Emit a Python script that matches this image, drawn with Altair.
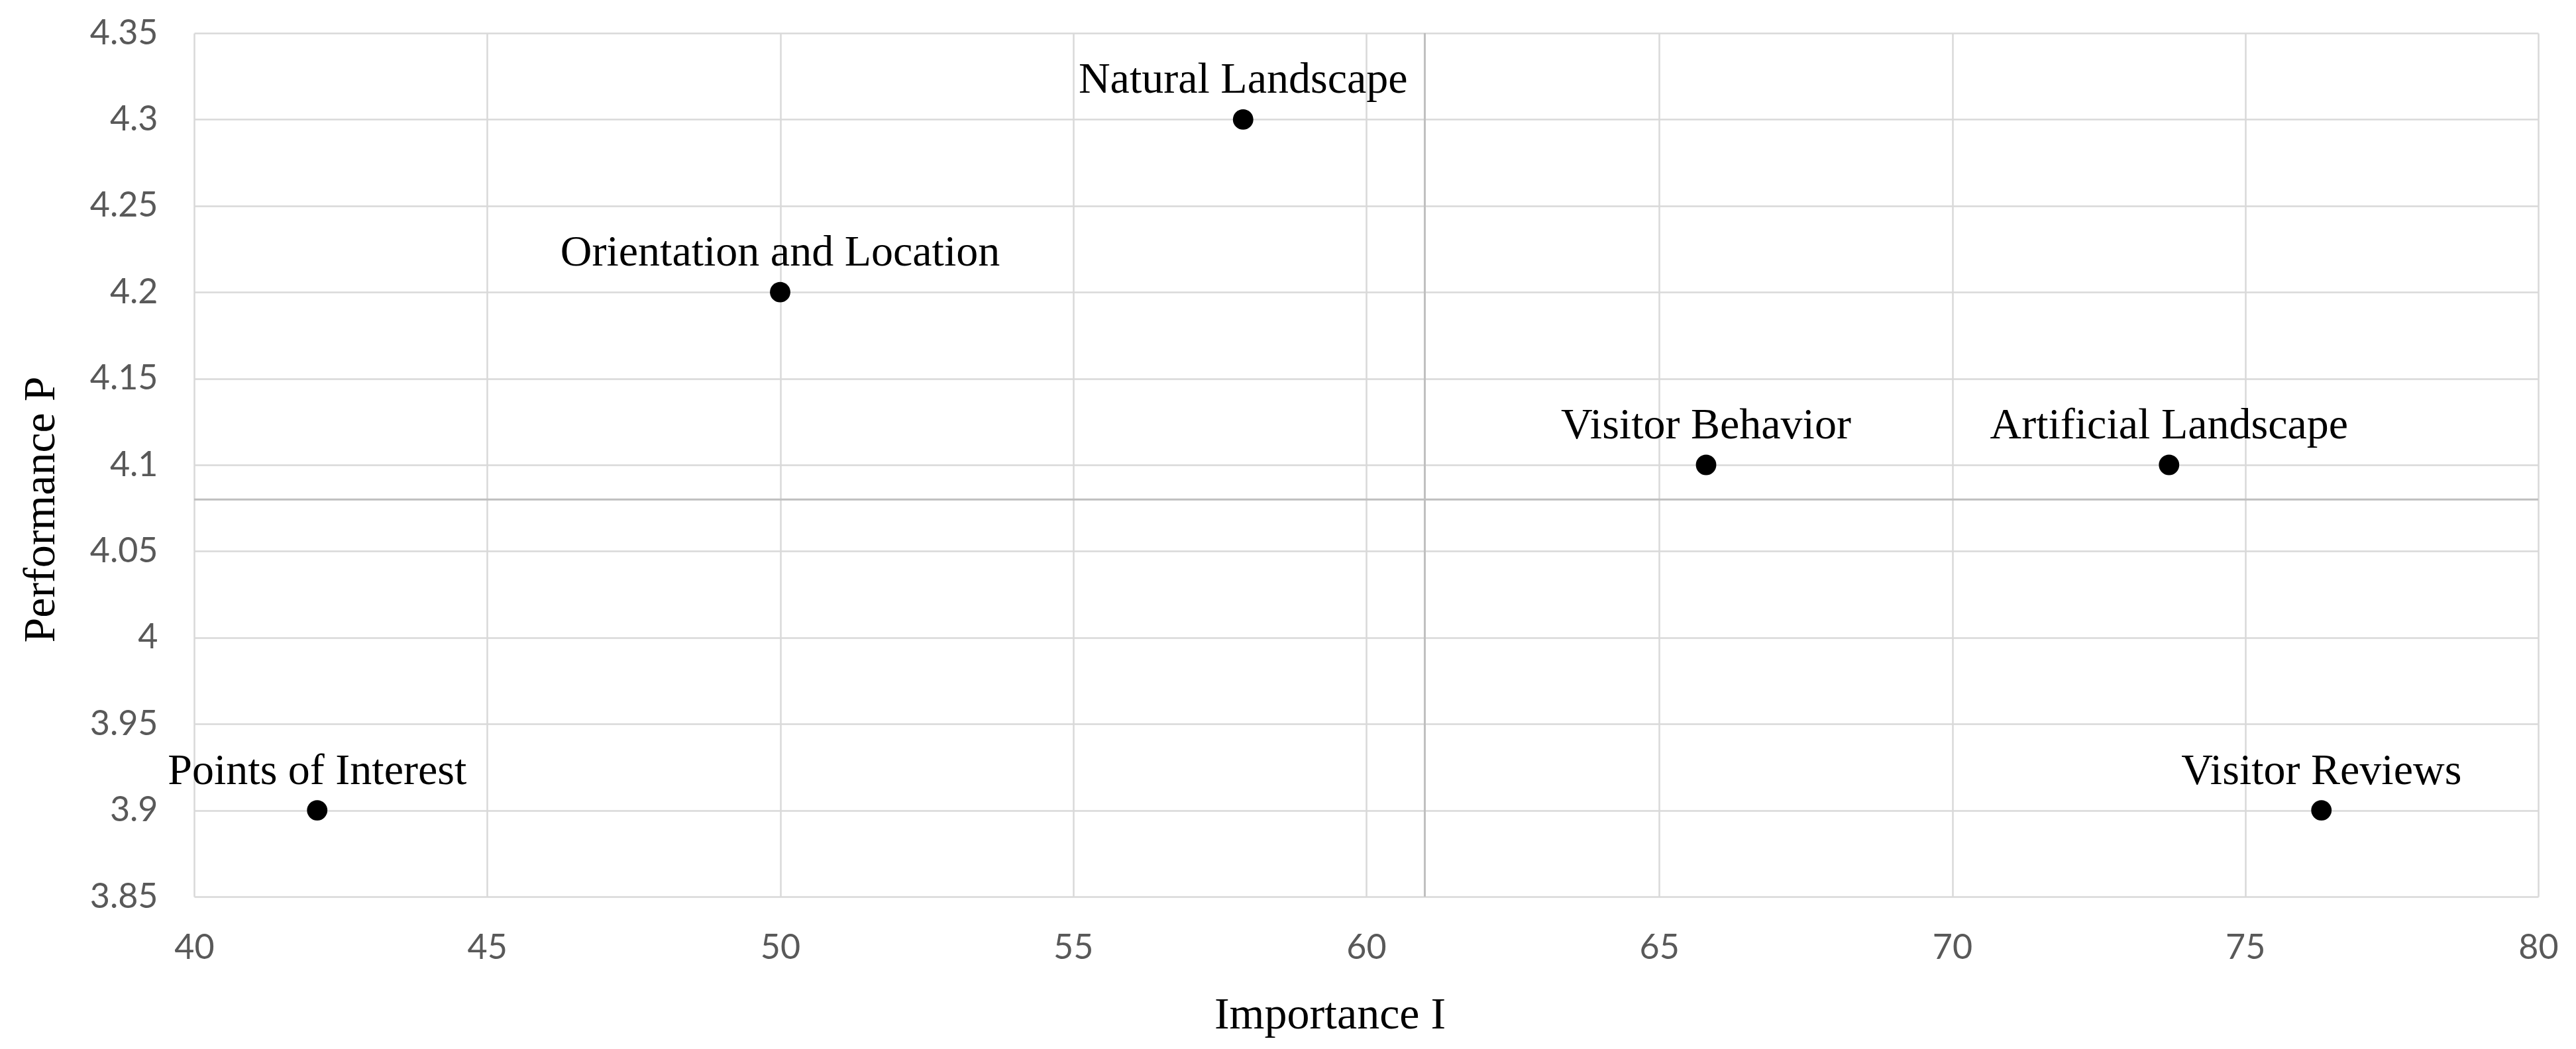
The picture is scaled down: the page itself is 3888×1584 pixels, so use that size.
import altair as alt
import pandas as pd

names = ["Points of Interest", "Orientation and Location", "Natural Landscape",
         "Visitor Behavior", "Artificial Landscape", "Visitor Reviews"]
importance = [42.1, 50.0, 57.9, 65.8, 73.7, 76.3]
performance = [3.9, 4.2, 4.3, 4.1, 4.1, 3.9]
mean_importance = [61.0]
mean_performance = [4.08]
x_ticks = [40, 45, 50, 55, 60, 65, 70, 75, 80]
y_ticks = [3.85, 3.9, 3.95, 4.0, 4.05, 4.1, 4.15, 4.2, 4.25, 4.3, 4.35]

df = pd.DataFrame({"name": names, "I": importance, "P": performance})
vdf = pd.DataFrame({"I": mean_importance})
hdf = pd.DataFrame({"P": mean_performance})

xscale = alt.Scale(domain=[40, 80], nice=False, zero=False)
yscale = alt.Scale(domain=[3.85, 4.35], nice=False, zero=False)

xaxis = alt.Axis(values=x_ticks, title="Importance I", grid=True, gridColor="#d9d9d9",
                 gridWidth=2.5, domain=False, ticks=False, labelFont="Lato", format="d",
                 labelFontSize=52, labelColor="#595959", labelPadding=52, labelFlush=False,
                 titleFont="Liberation Serif", titleFontSize=68, titleFontWeight="normal",
                 titleColor="black", titleBaseline="alphabetic", titleY=198, titleX=1714,
                 titleAlign="center")
yaxis = alt.Axis(values=y_ticks, title="Performance P", grid=True, gridColor="#d9d9d9",
                 gridWidth=2.5, domain=False, ticks=False, labelFont="Lato", labelFlush=False,
                 labelFontSize=52, labelColor="#595959", labelPadding=55, format="~g",
                 titleFont="Liberation Serif", titleFontSize=68, titleFontWeight="normal",
                 titleColor="black", titleBaseline="alphabetic", titleX=-212, titleY=719,
                 titleAlign="center", titleAngle=270)

base = alt.Chart(df)

points = base.mark_point(filled=True, color="black", size=950, opacity=1).encode(
    x=alt.X("I:Q", scale=xscale, axis=xaxis),
    y=alt.Y("P:Q", scale=yscale, axis=yaxis),
)
labels = base.mark_text(font="Liberation Serif", fontSize=66, color="black",
                        baseline="alphabetic", align="center", dy=-40).encode(
    x=alt.X("I:Q", scale=xscale), y=alt.Y("P:Q", scale=yscale), text="name:N")

vrule = alt.Chart(vdf).mark_rule(color="#bfbfbf", strokeWidth=3).encode(
    x=alt.X("I:Q", scale=xscale))
hrule = alt.Chart(hdf).mark_rule(color="#bfbfbf", strokeWidth=3).encode(
    y=alt.Y("P:Q", scale=yscale))

chart = alt.layer(vrule, hrule, points, labels).properties(
    width=3538, height=1304,
    autosize=alt.AutoSizeParams(type="none"),
    padding={"left": 285, "top": 42, "right": 40, "bottom": 225},
).configure_view(stroke=None)

chart.save("out.html", embed_options={"renderer": "svg", "actions": False})
